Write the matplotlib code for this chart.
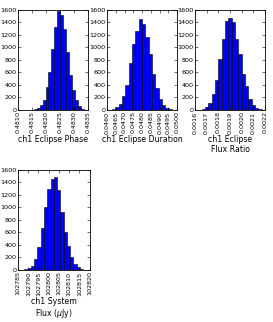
import matplotlib
matplotlib.use("Agg")
import matplotlib.pyplot as plt
import numpy as np

# histogram counts (20 bins each)
phase_counts = [2, 5, 12, 30, 80, 160, 360, 610, 970, 1330, 1580, 1520, 1290, 930, 560, 320, 160, 60, 20, 5]
phase_range = (0.48135, 0.48345)
phase_ticks = [0.4810, 0.4815, 0.4820, 0.4825, 0.4830, 0.4835]

duration_counts = [5, 20, 50, 100, 220, 400, 750, 1050, 1260, 1450, 1380, 1170, 900, 580, 350, 170, 80, 30, 10, 3]
duration_range = (0.0461, 0.0499)
duration_ticks = [0.0460, 0.0465, 0.0470, 0.0475, 0.0480, 0.0485, 0.0490, 0.0495, 0.0500]

ratio_counts = [5, 20, 50, 110, 260, 480, 820, 1130, 1430, 1470, 1400, 1130, 900, 580, 380, 170, 80, 35, 15, 5]
ratio_range = (0.00163, 0.00220)
ratio_ticks = [0.0016, 0.0017, 0.0018, 0.0019, 0.0020, 0.0021, 0.0022]

flux_counts = [3, 10, 30, 70, 170, 370, 670, 1000, 1300, 1450, 1490, 1280, 930, 600, 390, 200, 100, 40, 15, 5]
flux_range = (102786.5, 102818.5)
flux_ticks = [102785, 102790, 102795, 102800, 102805, 102810, 102815, 102820]

panels = [
    (phase_counts, phase_range, phase_ticks, "%.4f", "ch1 Eclipse Phase"),
    (duration_counts, duration_range, duration_ticks, "%.4f", "ch1 Eclipse Duration"),
    (ratio_counts, ratio_range, ratio_ticks, "%.4f", "ch1 Eclipse\nFlux Ratio"),
    (flux_counts, flux_range, flux_ticks, "%d", "ch1 System\nFlux ($\\mu$Jy)"),
]

fig = plt.figure(figsize=(2.73, 3.22), dpi=100)
positions = [
    [0.066, 0.6584, 0.257, 0.3106],
    [0.392, 0.6584, 0.257, 0.3106],
    [0.714, 0.6584, 0.257, 0.3106],
    [0.066, 0.1615, 0.262, 0.3106],
]

for (counts, rng, ticks, fmt, label), pos in zip(panels, positions):
    ax = fig.add_axes(pos)
    edges = np.linspace(rng[0], rng[1], len(counts) + 1)
    ax.bar(edges[:-1], counts, width=np.diff(edges), align='edge',
           color='#0000ff', edgecolor='black', linewidth=0.4)
    ax.set_xlim(ticks[0], ticks[-1])
    ax.set_ylim(0, 1600)
    ax.set_yticks(range(0, 1601, 200))
    ax.set_xticks(ticks)
    ax.set_xticklabels([fmt % t for t in ticks], rotation=90)
    ax.tick_params(direction='in', top=True, right=True, labelsize=4.6,
                   length=2.5, width=0.4, pad=1.0)
    for sp in ax.spines.values():
        sp.set_linewidth(0.6)
    ax.set_xlabel(label, fontsize=5.6, labelpad=1.2, linespacing=1.1)

fig.savefig("out.png", dpi=100)
